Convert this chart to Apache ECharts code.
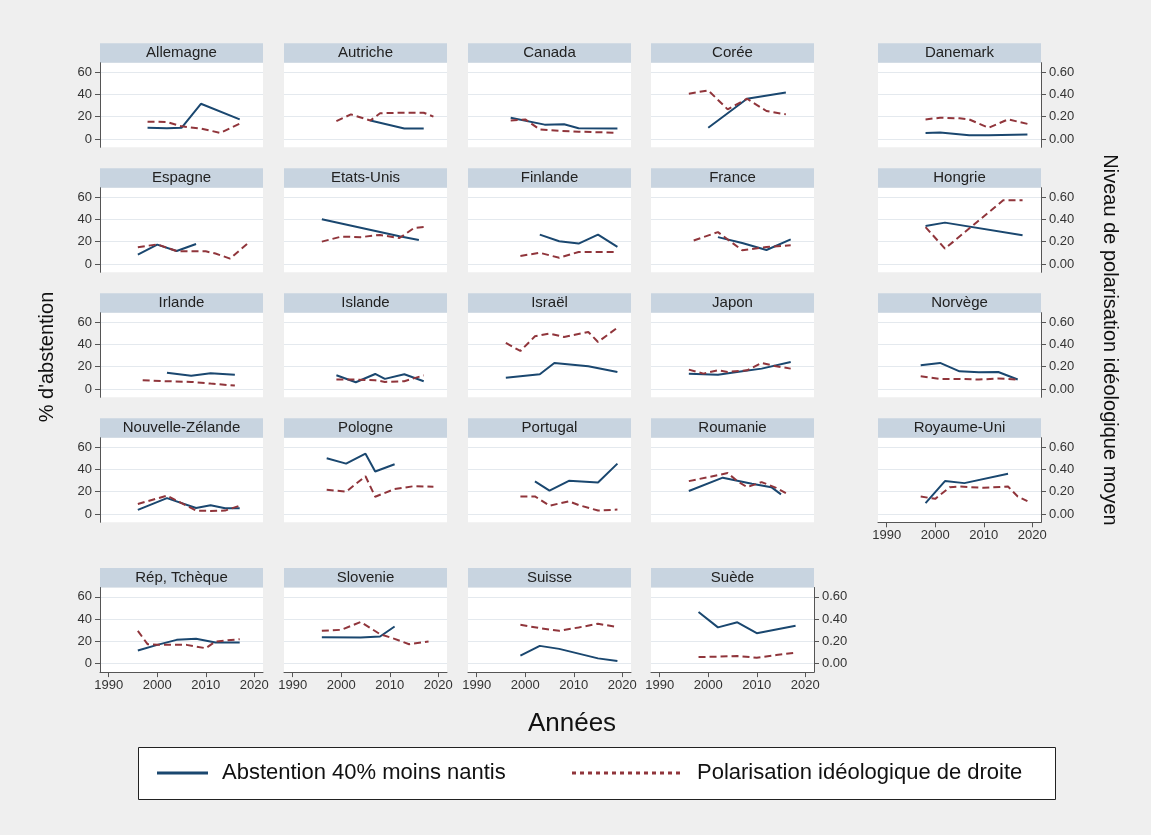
<!DOCTYPE html>
<html><head><meta charset="utf-8">
<script src="https://cdn.jsdelivr.net/npm/echarts@6/dist/echarts.min.js"></script>
<style>html,body{margin:0;padding:0;background:#efefef}#c{width:1151px;height:835px}</style>
</head><body><div id="c"></div>
<script>
const countries = ['Allemagne','Autriche','Canada','Corée','Danemark',
  'Espagne','Etats-Unis','Finlande','France','Hongrie',
  'Irlande','Islande','Israël','Japon','Norvège',
  'Nouvelle-Zélande','Pologne','Portugal','Roumanie','Royaume-Uni',
  'Rép, Tchèque','Slovenie','Suisse','Suède'];

// % abstention of the 40% least wealthy: [year, value]
const abstention = [
  [[1998,10],[2002,9.5],[2005,10],[2009,31.5],[2017,17.5]],
  [[2006,16.5],[2013,9.3],[2017,9.3]],
  [[1997,19],[2004,12.8],[2008,13.2],[2011,9.6],[2019,9.3]],
  [[2000,10],[2008,36],[2016,41.5]],
  [[1998,5.4],[2001,5.7],[2007,3.3],[2011,3.3],[2019,3.9]],
  [[1996,8.4],[2000,17.3],[2004,11.6],[2008,17.9]],
  [[1996,40],[2012,24.8],[2016,21.5]],
  [[2003,26.3],[2007,20.3],[2011,18.2],[2015,26.3],[2019,15.2]],
  [[2002,24],[2007,18.7],[2012,12.5],[2017,22]],
  [[1998,34],[2002,37],[2018,25.7]],
  [[2002,14.6],[2007,11.9],[2011,14],[2016,12.8]],
  [[1999,12.2],[2003,6],[2007,13.4],[2009,9],[2013,13.1],[2017,6.9]],
  [[1996,10.1],[2003,13.1],[2006,23.3],[2013,20.3],[2019,15.2]],
  [[1996,13.7],[2002,12.8],[2007,15.8],[2011,18.2],[2017,24.2]],
  [[1997,21.2],[2001,23.3],[2005,15.8],[2009,14.9],[2013,15.2],[2017,8.4]],
  [[1996,3.6],[2002,14.2],[2008,5.3],[2011,7.7],[2014,5],[2017,5]],
  [[1997,49.9],[2001,45.1],[2005,54],[2007,38],[2011,44.5]],
  [[2002,29.1],[2005,20.8],[2009,29.7],[2015,28.2],[2019,45.1]],
  [[1996,20.5],[2003,32.5],[2009,27],[2013,24],[2015,17.5]],
  [[1998,9.6],[2002,29.4],[2006,27.6],[2015,36]],
  [[1996,11.8],[2000,16.9],[2004,21.4],[2008,22.3],[2012,19],[2017,19]],
  [[1996,23.8],[2004,23.5],[2008,24.4],[2011,33.4]],
  [[1999,7.2],[2003,16],[2007,13.3],[2015,4.8],[2019,2.4]],
  [[1998,46.4],[2002,32.6],[2006,37.1],[2010,27.4],[2018,34.1]]
];

// mean right-wing ideological polarisation: [year, value]
const polarisation = [
  [[1998,0.155],[2002,0.152],[2005,0.113],[2009,0.093],[2013,0.054],[2017,0.137]],
  [[1999,0.16],[2002,0.22],[2006,0.165],[2008,0.23],[2013,0.235],[2017,0.235],[2019,0.2]],
  [[1997,0.165],[2000,0.175],[2003,0.085],[2007,0.072],[2011,0.065],[2015,0.06],[2019,0.055]],
  [[1996,0.405],[2000,0.435],[2004,0.265],[2008,0.36],[2012,0.25],[2016,0.22]],
  [[1998,0.175],[2001,0.19],[2005,0.185],[2007,0.175],[2011,0.1],[2015,0.175],[2019,0.135]],
  [[1996,0.15],[2000,0.175],[2004,0.115],[2008,0.113],[2010,0.113],[2012,0.093],[2015,0.048],[2019,0.197]],
  [[1996,0.2],[2000,0.245],[2004,0.24],[2008,0.26],[2012,0.232],[2015,0.322],[2017,0.33]],
  [[1999,0.072],[2003,0.1],[2007,0.055],[2011,0.107],[2015,0.107],[2019,0.107]],
  [[1997,0.21],[2002,0.285],[2007,0.122],[2012,0.152],[2017,0.167]],
  [[1998,0.33],[2002,0.137],[2014,0.57],[2018,0.57]],
  [[1997,0.078],[2002,0.069],[2007,0.063],[2011,0.048],[2016,0.03]],
  [[1999,0.084],[2003,0.084],[2007,0.078],[2009,0.063],[2013,0.069],[2017,0.122]],
  [[1996,0.412],[1999,0.34],[2002,0.472],[2005,0.496],[2008,0.466],[2013,0.51],[2015,0.421],[2019,0.549]],
  [[1996,0.173],[1999,0.137],[2002,0.167],[2004,0.152],[2008,0.167],[2011,0.233],[2014,0.203],[2017,0.182]],
  [[1997,0.113],[2001,0.09],[2005,0.09],[2009,0.084],[2013,0.093],[2017,0.084]],
  [[1996,0.089],[2002,0.163],[2008,0.03],[2011,0.027],[2014,0.03],[2017,0.074]],
  [[1997,0.217],[2001,0.199],[2005,0.338],[2007,0.154],[2011,0.223],[2015,0.249],[2019,0.243]],
  [[1999,0.157],[2002,0.157],[2005,0.074],[2009,0.113],[2011,0.08],[2015,0.03],[2019,0.039]],
  [[1996,0.294],[2004,0.366],[2006,0.294],[2008,0.24],[2011,0.285],[2014,0.234],[2016,0.186]],
  [[1997,0.156],[2000,0.135],[2003,0.24],[2005,0.246],[2010,0.234],[2015,0.246],[2017,0.156],[2019,0.114]],
  [[1996,0.295],[1998,0.175],[2000,0.169],[2006,0.169],[2008,0.154],[2010,0.139],[2012,0.199],[2017,0.22]],
  [[1996,0.295],[2000,0.304],[2004,0.374],[2008,0.265],[2011,0.223],[2014,0.175],[2018,0.199]],
  [[1999,0.349],[2003,0.319],[2007,0.295],[2011,0.325],[2015,0.358],[2019,0.328]],
  [[1998,0.06],[2002,0.063],[2006,0.069],[2010,0.054],[2014,0.078],[2018,0.099]]
];

const xTicks = [1990, 2000, 2010, 2020];
const leftTicks = [0, 20, 40, 60];
const rightTicks = [0, 0.2, 0.4, 0.6];
const seriesNames = ['Abstention 40% moins nantis', 'Polarisation idéologique de droite'];

// ---- layout ----
const FONT = "'Liberation Sans', Arial, sans-serif";
const colLeft = [100, 284, 468, 651, 878];
const rowTop = [62.7, 187.7, 312.7, 437.7, 587.5];
const plotW = 163, plotH = 84.6, stripH = 19.4;
const NAVY = '#1a476f', MAROON = '#90353b';

const grids = [], xAxes = [], yAxes = [], series = [], graphics = [];
countries.forEach((name, i) => {
  const col = i % 5, row = Math.floor(i / 5);
  const left = colLeft[col], top = rowTop[row];
  const bottomPanel = (row === 4) || (i === 19);
  const leftPanel = col === 0;
  const rightPanel = col === 4 || i === 23;
  grids.push({left, top, width: plotW, height: plotH, show: true,
    backgroundColor: '#ffffff', borderWidth: 0});
  graphics.push({type: 'rect', shape: {x: left, y: top - stripH, width: plotW, height: stripH},
    style: {fill: '#c8d4e0'}, silent: true});
  graphics.push({type: 'text', x: left + plotW / 2, y: top - stripH / 2,
    style: {text: name, font: `15px ${FONT}`, fill: '#222', align: 'center', verticalAlign: 'middle'}, silent: true});
  xAxes.push({type: 'value', gridIndex: i, min: 1988.2, max: 2021.8,
    axisLine: {show: bottomPanel, onZero: false, lineStyle: {color: '#555', width: 1}},
    axisTick: {show: bottomPanel, customValues: xTicks, length: 5, lineStyle: {color: '#555'}},
    axisLabel: {show: bottomPanel, customValues: xTicks, fontSize: 13, color: '#333', fontFamily: FONT, margin: 7,
      formatter: v => String(v)},
    splitLine: {show: false}});
  yAxes.push({type: 'value', gridIndex: i, position: 'left', min: -7.5, max: 68.3,
    axisLine: {show: leftPanel, lineStyle: {color: '#555'}},
    axisTick: {show: leftPanel, customValues: leftTicks, length: 5, lineStyle: {color: '#555'}},
    axisLabel: {show: leftPanel, customValues: leftTicks, fontSize: 13, color: '#333', fontFamily: FONT, margin: 8},
    splitLine: {show: true, lineStyle: {color: '#e4e9ee', width: 1}}});
  yAxes.push({type: 'value', gridIndex: i, position: 'right', min: -0.075, max: 0.683,
    axisLine: {show: rightPanel, lineStyle: {color: '#555'}},
    axisTick: {show: rightPanel, customValues: rightTicks, length: 5, lineStyle: {color: '#555'}},
    axisLabel: {show: rightPanel, customValues: rightTicks, fontSize: 13, color: '#333', fontFamily: FONT, margin: 8,
      formatter: v => v.toFixed(2)},
    splitLine: {show: false}});
  series.push({type: 'line', name: seriesNames[0], xAxisIndex: i, yAxisIndex: 2 * i,
    data: abstention[i], showSymbol: false, symbol: 'none', silent: true,
    lineStyle: {color: NAVY, width: 2}, itemStyle: {color: NAVY}});
  series.push({type: 'line', name: seriesNames[1], xAxisIndex: i, yAxisIndex: 2 * i + 1,
    data: polarisation[i], showSymbol: false, symbol: 'none', silent: true,
    lineStyle: {color: MAROON, width: 2, type: [7, 4]}, itemStyle: {color: MAROON}});
});

// axis titles
graphics.push({type: 'text', x: 47, y: 357, rotation: Math.PI / 2,
  style: {text: "% d'abstention", font: `20px ${FONT}`, fill: '#111', align: 'center', verticalAlign: 'middle'}, silent: true});
graphics.push({type: 'text', x: 1110, y: 340, rotation: -Math.PI / 2,
  style: {text: 'Niveau de polarisation idéologique moyen', font: `20px ${FONT}`, fill: '#111', align: 'center', verticalAlign: 'middle'}, silent: true});
graphics.push({type: 'text', x: 572, y: 724,
  style: {text: 'Années', font: `26px ${FONT}`, fill: '#111', align: 'center', verticalAlign: 'middle'}, silent: true});
// legend box and keys
graphics.push({type: 'rect', shape: {x: 138.5, y: 747.5, width: 917, height: 52},
  style: {fill: '#ffffff', stroke: '#222', lineWidth: 1}, silent: true, z: -1});
graphics.push({type: 'line', shape: {x1: 157, y1: 773, x2: 208, y2: 773},
  style: {stroke: NAVY, lineWidth: 3}, silent: true});
graphics.push({type: 'text', x: 222, y: 773,
  style: {text: seriesNames[0], font: `22px ${FONT}`, fill: '#111', align: 'left', verticalAlign: 'middle'}, silent: true});
graphics.push({type: 'line', shape: {x1: 572, y1: 773, x2: 680, y2: 773},
  style: {stroke: MAROON, lineWidth: 3, lineDash: [4, 4]}, silent: true});
graphics.push({type: 'text', x: 697, y: 773,
  style: {text: seriesNames[1], font: `22px ${FONT}`, fill: '#111', align: 'left', verticalAlign: 'middle'}, silent: true});

const chart = echarts.init(document.getElementById('c'), null, {renderer: 'canvas'});
chart.setOption({
  backgroundColor: '#efefef',
  animation: false,
  grid: grids, xAxis: xAxes, yAxis: yAxes, series,
  graphic: graphics
});
</script></body></html>
